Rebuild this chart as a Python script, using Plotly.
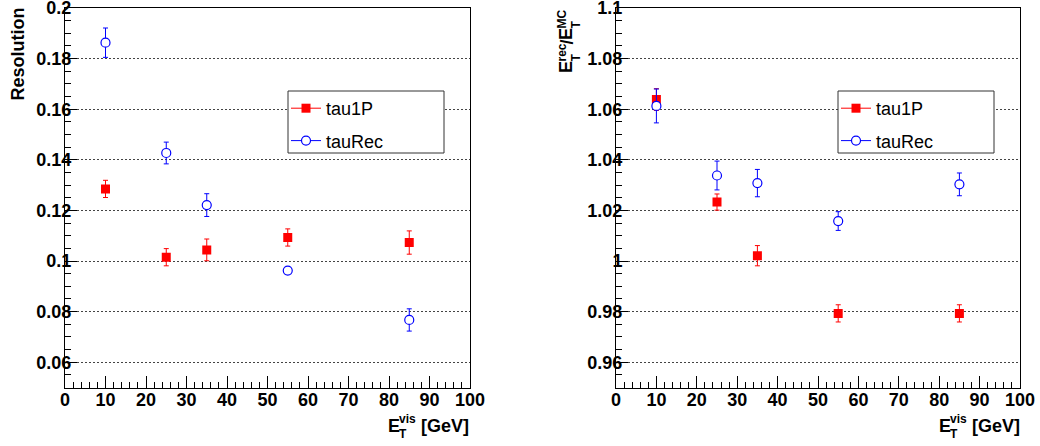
import plotly.graph_objects as go

# ---------------- data ----------------
energy = [10, 25, 35, 55, 85]

res_tau1p = [0.1285, 0.1015, 0.1044, 0.1093, 0.1073]
res_tau1p_err = [0.0034, 0.0034, 0.0043, 0.0034, 0.0046]
res_taurec = [0.1863, 0.1427, 0.1221, 0.0962, 0.0767]
res_taurec_err = [0.0058, 0.0043, 0.0045, 0.0010, 0.0044]

ratio_tau1p = [1.0638, 1.0233, 1.0021, 0.9793, 0.9793]
ratio_tau1p_err = [0.0043, 0.0032, 0.0040, 0.0034, 0.0034]
ratio_taurec = [1.0613, 1.0338, 1.0308, 1.0158, 1.0303]
ratio_taurec_err = [0.0067, 0.0057, 0.0054, 0.0037, 0.0045]

series_names = ["tau1P", "tauRec"]
x_tickvals = [0, 10, 20, 30, 40, 50, 60, 70, 80, 90, 100]
x_ticktext = ["0", "10", "20", "30", "40", "50", "60", "70", "80", "90", "100"]
res_tickvals = [0.06, 0.08, 0.10, 0.12, 0.14, 0.16, 0.18, 0.20]
res_ticktext = ["0.06", "0.08", "0.1", "0.12", "0.14", "0.16", "0.18", "0.2"]
ratio_tickvals = [0.96, 0.98, 1.00, 1.02, 1.04, 1.06, 1.08, 1.10]
ratio_ticktext = ["0.96", "0.98", "1", "1.02", "1.04", "1.06", "1.08", "1.1"]

# ---------------- geometry helpers ----------------
W, H = 1040, 446


def px(x):
    return x / W


def py(y):
    return 1 - y / H


RED = "#ff0000"
BLUE = "#0000ff"
FONT = "Liberation Sans, Arial, sans-serif"

fig = go.Figure()


def add_series(xa, ya, ydata, yerr, kind):
    if kind == 0:
        marker = dict(symbol="square", size=9, color=RED, line=dict(width=0))
        col = RED
    else:
        marker = dict(symbol="circle", size=9, color="white", line=dict(color=BLUE, width=1.2))
        col = BLUE
    fig.add_trace(go.Scatter(
        x=energy, y=ydata, mode="markers", marker=marker,
        error_y=dict(type="data", array=yerr, visible=True, color=col, thickness=1, width=2.5),
        xaxis=xa, yaxis=ya, showlegend=False, name=series_names[kind],
    ))


add_series("x", "y", res_tau1p, res_tau1p_err, 0)
add_series("x", "y", res_taurec, res_taurec_err, 1)
add_series("x2", "y2", ratio_tau1p, ratio_tau1p_err, 0)
add_series("x2", "y2", ratio_taurec, ratio_taurec_err, 1)

# legend-only entries (line + marker, as in the original legend)
for leg, xa, ya in (("legend", "x", "y"), ("legend2", "x2", "y2")):
    fig.add_trace(go.Scatter(
        x=[None], y=[None], mode="lines+markers", name=series_names[0],
        line=dict(color=RED, width=1), marker=dict(symbol="square", size=9, color=RED),
        legend=leg, legendgroup="a" + leg, xaxis=xa, yaxis=ya,
    ))
    fig.add_trace(go.Scatter(
        x=[None], y=[None], mode="lines+markers", name=series_names[1],
        line=dict(color=BLUE, width=1),
        marker=dict(symbol="circle", size=9, color="white", line=dict(color=BLUE, width=1.2)),
        legend=leg, legendgroup="b" + leg, xaxis=xa, yaxis=ya,
    ))

tickfont = dict(family=FONT, size=18, color="black")


def bold(lst):
    return ["<b>%s</b>" % t for t in lst]


ydom = [py(387.5), py(8)]

common_x = dict(
    range=[0, 100.0001], tickvals=x_tickvals, ticktext=bold(x_ticktext),
    ticks="inside", ticklen=12, tickcolor="black", ticklabelstandoff=-4,
    ticklabeloverflow="allow",
    minor=dict(dtick=2, ticks="inside", ticklen=6, tickcolor="black", showgrid=False),
    showgrid=False, zeroline=False, showline=True, linecolor="black", linewidth=1,
    mirror=True, tickfont=tickfont, automargin=False,
)
common_y = dict(
    ticks="inside", ticklen=12, tickcolor="black", ticklabelstandoff=-11,
    ticklabeloverflow="allow",
    minor=dict(dtick=0.005, ticks="inside", ticklen=6, tickcolor="black", showgrid=False),
    showgrid=True, gridcolor="#444444", griddash="2px,2px", gridwidth=1,
    zeroline=False, showline=True, linecolor="black", linewidth=1, mirror=True,
    tickfont=tickfont, automargin=False,
)

fig.update_layout(
    width=W, height=H,
    margin=dict(l=0, r=0, t=0, b=0, autoexpand=False),
    paper_bgcolor="white", plot_bgcolor="white",
    xaxis=dict(domain=[px(65), px(470)], anchor="y", **common_x),
    yaxis=dict(domain=ydom, anchor="x", range=[0.05, 0.20001], tickvals=res_tickvals,
               ticktext=bold(res_ticktext), **common_y),
    xaxis2=dict(domain=[px(616), px(1020)], anchor="y2", **common_x),
    yaxis2=dict(domain=ydom, anchor="x2", range=[0.95, 1.10001], tickvals=ratio_tickvals,
                ticktext=bold(ratio_ticktext), **common_y),
    legend=dict(x=px(286), y=py(90), xanchor="left", yanchor="top",
                bgcolor="rgba(0,0,0,0)", borderwidth=0,
                font=dict(family=FONT, size=18, color="black"),
                traceorder="grouped", tracegroupgap=6),
    legend2=dict(x=px(836), y=py(90), xanchor="left", yanchor="top",
                 bgcolor="rgba(0,0,0,0)", borderwidth=0,
                 font=dict(family=FONT, size=18, color="black"),
                 traceorder="grouped", tracegroupgap=6),
    showlegend=True,
)

# legend frames
for x0 in (288, 838):
    fig.add_shape(type="rect", xref="paper", yref="paper",
                  x0=px(x0), x1=px(x0 + 156), y0=py(153), y1=py(91),
                  line=dict(color="#333333", width=1), fillcolor="white", layer="above")

ann = []


def text(t, x, y, size, xanchor="center", yanchor="middle", angle=0):
    ann.append(dict(text="<b>%s</b>" % t, x=px(x), y=py(y), xref="paper", yref="paper",
                    xanchor=xanchor, yanchor=yanchor, showarrow=False, textangle=angle,
                    font=dict(family=FONT, size=size, color="black"),
                    borderpad=0, borderwidth=0))


# x-axis titles: E_T^vis [GeV]
for off in (0, 551):
    text("E", 388 + off, 425.5, 18, xanchor="left")
    text("vis", 399 + off, 419, 12, xanchor="left")
    text("T", 399 + off, 433.5, 12, xanchor="left")
    text("[GeV]", 469 + off, 425.5, 18, xanchor="right")

# left y title
text("Resolution", 17, 8, 18, yanchor="top", angle=-90)

# right y title: E_T^rec/E_T^MC (stacked sub/superscripts)
text("E", 566, 67, 18, angle=-90)
text("T", 576, 57.5, 12, angle=-90)
text("rec", 562, 52.5, 12, angle=-90)
text("/", 566, 42.5, 18, angle=-90)
text("E", 566, 34, 18, angle=-90)
text("T", 576, 24.5, 12, angle=-90)
text("MC", 562, 19.5, 12, angle=-90)

fig.update_layout(annotations=ann)

fig.write_html("out.html", config={"displayModeBar": False},
               post_script="document.body.style.margin='0';")
